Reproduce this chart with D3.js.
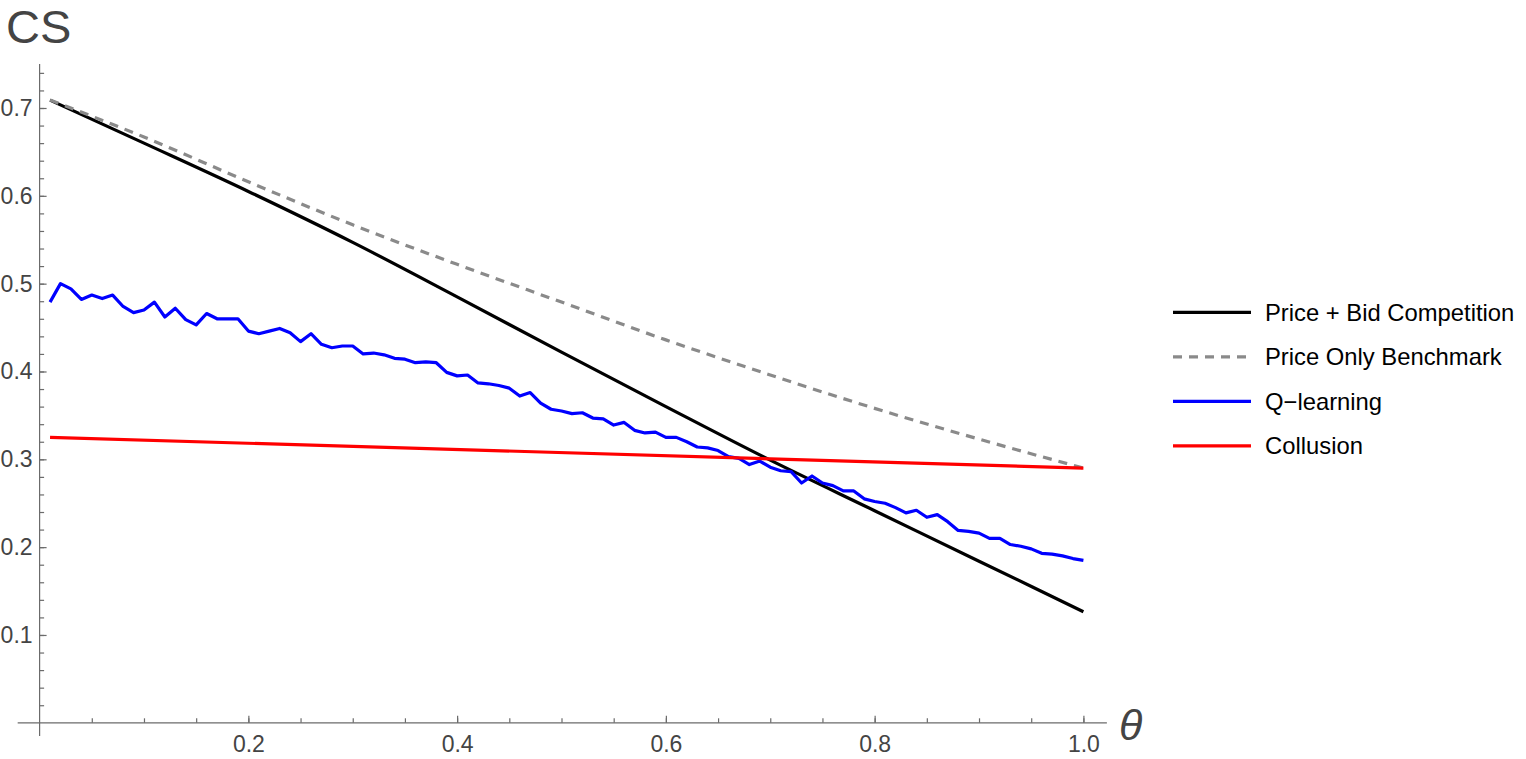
<!DOCTYPE html>
<html>
<head>
<meta charset="utf-8">
<script src="https://cdn.jsdelivr.net/npm/d3@7"></script>
<style>
  html, body { margin: 0; padding: 0; background: #fff; }
  svg { display: block; }
  text { font-family: "Liberation Sans", Arial, sans-serif; }
</style>
</head>
<body>
<div id="chart"></div>
<script>
var w = 1526;
var h = 759;

// series
var thetaLine = [0.01, 0.1, 0.2, 0.3, 0.4, 0.5, 0.6, 0.7, 0.8, 0.9, 1.0];
var priceBid = [0.709, 0.660, 0.605, 0.547, 0.485, 0.422, 0.360, 0.299, 0.2415, 0.184, 0.1265];
var priceOnly = [0.709, 0.667, 0.616, 0.567, 0.522, 0.479, 0.436, 0.396, 0.358, 0.323, 0.290];

var thetaCollusion = [0.01, 1.0];
var collusion = [0.325, 0.290];

var thetaQ = d3.range(1, 101).map(function (i) { return i / 100; });
var qLearning = [
  0.479, 0.500, 0.494, 0.482, 0.487, 0.483, 0.487, 0.474, 0.467, 0.470,
  0.479, 0.462, 0.472, 0.459, 0.453, 0.466, 0.460, 0.460, 0.460, 0.446,
  0.443, 0.446, 0.449, 0.444, 0.434, 0.443, 0.431, 0.427, 0.429, 0.429,
  0.420, 0.421, 0.419, 0.415, 0.414, 0.410, 0.411, 0.410, 0.399, 0.395,
  0.396, 0.387, 0.386, 0.384, 0.381, 0.372, 0.376, 0.364, 0.357, 0.355,
  0.352, 0.353, 0.347, 0.346, 0.339, 0.342, 0.333, 0.330, 0.331, 0.325,
  0.325, 0.320, 0.314, 0.313, 0.310, 0.303, 0.301, 0.294, 0.298, 0.291,
  0.287, 0.286, 0.273, 0.281, 0.273, 0.270, 0.264, 0.264, 0.255, 0.252,
  0.250, 0.245, 0.239, 0.242, 0.234, 0.237, 0.229, 0.219, 0.218, 0.216,
  0.210, 0.210, 0.203, 0.201, 0.198, 0.193, 0.192, 0.190, 0.187, 0.185
];

var xMajor = [0.2, 0.4, 0.6, 0.8, 1.0];
var yMajor = [0.1, 0.2, 0.3, 0.4, 0.5, 0.6, 0.7];
var xMinor = d3.range(1, 21).map(function (i) { return i * 0.05; });
var yMinor = d3.range(1, 38).map(function (i) { return i * 0.02; });

var legendNames = ["Price + Bid Competition", "Price Only Benchmark", "Q\u2212learning", "Collusion"];
var legendColors = ["#000000", "#8a8a8a", "#0000ff", "#ff0000"];
var legendDash = [null, "9,7", null, null];

var x = d3.scaleLinear().domain([0, 1]).range([39.6, 1083.4]);
var y = d3.scaleLinear().domain([0, 0.7]).range([722.8, 108]);

var svg = d3.select("#chart").append("svg")
  .attr("width", w)
  .attr("height", h);

var axisColor = "#6b6b6b";
var labelColor = "#444444";

// minor ticks
var xMinorAxis = svg.append("g")
  .attr("transform", "translate(0," + y(0) + ")")
  .call(d3.axisBottom(x).tickValues(xMinor).tickSize(-4.5).tickFormat(""));
var yMinorAxis = svg.append("g")
  .attr("transform", "translate(" + x(0) + ",0)")
  .call(d3.axisLeft(y).tickValues(yMinor).tickSize(-4.5).tickFormat(""));

// major ticks with labels
var xAxis = svg.append("g")
  .attr("transform", "translate(0," + y(0) + ")")
  .call(d3.axisBottom(x).tickValues(xMajor).tickSize(-7).tickPadding(13).tickFormat(d3.format(".1f")));
var yAxis = svg.append("g")
  .attr("transform", "translate(" + x(0) + ",0)")
  .call(d3.axisLeft(y).tickValues(yMajor).tickSize(-7).tickPadding(7).tickFormat(d3.format(".1f")));

[xMinorAxis, yMinorAxis, xAxis, yAxis].forEach(function (g) {
  g.select(".domain").remove();
  g.selectAll("line").attr("stroke", axisColor).attr("stroke-width", 1.2);
  g.selectAll("text")
    .attr("fill", labelColor)
    .attr("font-size", 23)
    .attr("font-family", "Liberation Sans, Arial, sans-serif");
});

// axis lines
svg.append("line")
  .attr("x1", x(-0.021)).attr("x2", x(1.0225))
  .attr("y1", y(0)).attr("y2", y(0))
  .attr("stroke", axisColor).attr("stroke-width", 1.2);
svg.append("line")
  .attr("x1", x(0)).attr("x2", x(0))
  .attr("y1", y(-0.015)).attr("y2", y(0.75))
  .attr("stroke", axisColor).attr("stroke-width", 1.2);

// axis titles
svg.append("text")
  .attr("x", 6).attr("y", 43)
  .attr("font-size", 47)
  .attr("fill", labelColor)
  .text("CS");
svg.append("text")
  .attr("x", 1119).attr("y", 740)
  .attr("font-size", 43)
  .attr("font-style", "italic")
  .attr("font-family", "DejaVu Sans, sans-serif")
  .attr("fill", labelColor)
  .text("\u03b8");

var smooth = d3.line()
  .curve(d3.curveMonotoneX)
  .x(function (d) { return x(d[0]); })
  .y(function (d) { return y(d[1]); });
var straight = d3.line()
  .x(function (d) { return x(d[0]); })
  .y(function (d) { return y(d[1]); });

function pairs(xs, ys) {
  return xs.map(function (v, i) { return [v, ys[i]]; });
}

var series = [
  { pts: pairs(thetaLine, priceBid), color: legendColors[0], dash: legendDash[0], gen: smooth },
  { pts: pairs(thetaLine, priceOnly), color: legendColors[1], dash: legendDash[1], gen: smooth },
  { pts: pairs(thetaQ, qLearning), color: legendColors[2], dash: legendDash[2], gen: straight },
  { pts: pairs(thetaCollusion, collusion), color: legendColors[3], dash: legendDash[3], gen: straight }
];

svg.append("g").selectAll("path")
  .data(series)
  .enter().append("path")
  .attr("d", function (s) { return s.gen(s.pts); })
  .attr("fill", "none")
  .attr("stroke", function (s) { return s.color; })
  .attr("stroke-width", 3.2)
  .attr("stroke-linejoin", "round")
  .attr("stroke-dasharray", function (s) { return s.dash; });

// legend
var legend = svg.append("g").selectAll("g")
  .data(legendNames)
  .enter().append("g")
  .attr("transform", function (d, i) { return "translate(1173," + (312.3 + i * 44.5) + ")"; });

legend.append("line")
  .attr("x1", 0).attr("x2", 78)
  .attr("y1", 0).attr("y2", 0)
  .attr("stroke", function (d, i) { return legendColors[i]; })
  .attr("stroke-width", 3.2)
  .attr("stroke-dasharray", function (d, i) { return legendDash[i]; });

legend.append("text")
  .attr("x", 92).attr("y", 8.4)
  .attr("font-size", 23.8)
  .attr("fill", "#000")
  .text(function (d) { return d; });
</script>
</body>
</html>
